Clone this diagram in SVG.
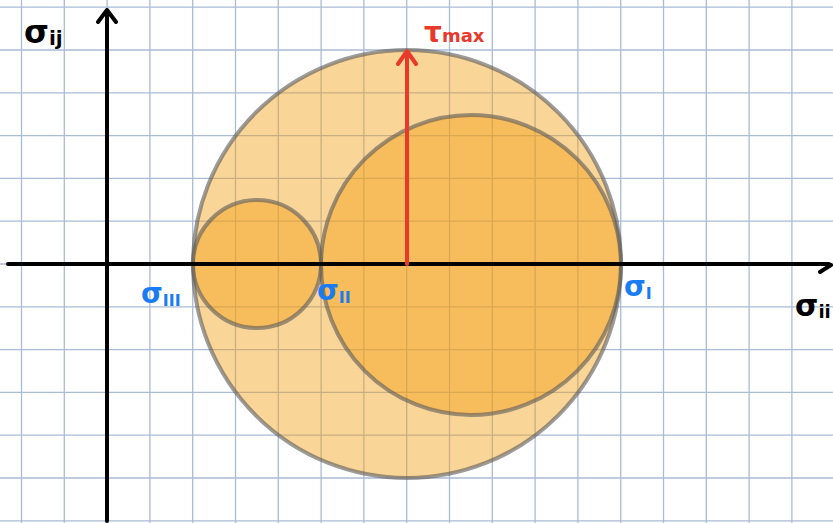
<svg xmlns="http://www.w3.org/2000/svg" width="833" height="523" viewBox="0 0 833 523">
<style>
.grid line{stroke:#aabbd6;stroke-width:1.3}
.circ{fill:#f39d10;fill-opacity:0.43;stroke:#5a5a5a;stroke-opacity:0.6;stroke-width:4}
.ax{stroke:#000;stroke-width:4;fill:none;stroke-linecap:round;stroke-linejoin:round}
.lbl{font-family:"Comic Sans MS","DejaVu Sans",sans-serif;font-weight:bold}
.blue{fill:#1a7cf2}
</style>
<rect width="833" height="523" fill="#fff"/>
<g class="grid">
<line x1="21.5" y1="0" x2="21.5" y2="523"/><line x1="64.3" y1="0" x2="64.3" y2="523"/><line x1="107.1" y1="0" x2="107.1" y2="523"/><line x1="149.9" y1="0" x2="149.9" y2="523"/><line x1="192.7" y1="0" x2="192.7" y2="523"/><line x1="235.5" y1="0" x2="235.5" y2="523"/><line x1="278.3" y1="0" x2="278.3" y2="523"/><line x1="321.1" y1="0" x2="321.1" y2="523"/><line x1="363.9" y1="0" x2="363.9" y2="523"/><line x1="406.7" y1="0" x2="406.7" y2="523"/><line x1="449.5" y1="0" x2="449.5" y2="523"/><line x1="492.3" y1="0" x2="492.3" y2="523"/><line x1="535.1" y1="0" x2="535.1" y2="523"/><line x1="577.9" y1="0" x2="577.9" y2="523"/><line x1="620.7" y1="0" x2="620.7" y2="523"/><line x1="663.5" y1="0" x2="663.5" y2="523"/><line x1="706.3" y1="0" x2="706.3" y2="523"/><line x1="749.1" y1="0" x2="749.1" y2="523"/><line x1="791.9" y1="0" x2="791.9" y2="523"/>
<line x1="0" y1="7.2" x2="833" y2="7.2"/><line x1="0" y1="50" x2="833" y2="50"/><line x1="0" y1="92.8" x2="833" y2="92.8"/><line x1="0" y1="135.6" x2="833" y2="135.6"/><line x1="0" y1="178.4" x2="833" y2="178.4"/><line x1="0" y1="221.2" x2="833" y2="221.2"/><line x1="0" y1="264" x2="833" y2="264"/><line x1="0" y1="306.8" x2="833" y2="306.8"/><line x1="0" y1="349.6" x2="833" y2="349.6"/><line x1="0" y1="392.4" x2="833" y2="392.4"/><line x1="0" y1="435.2" x2="833" y2="435.2"/><line x1="0" y1="478" x2="833" y2="478"/><line x1="0" y1="520.8" x2="833" y2="520.8"/>
</g>
<g id="circle-big"><circle class="circ" cx="407" cy="264" r="214"/></g>
<g id="circle-small"><circle class="circ" cx="257" cy="264" r="64"/></g>
<g id="circle-medium"><circle class="circ" cx="471" cy="265" r="150"/></g>
<g id="connectors">
<path class="ax" d="M8 264 H829 M820 272 L831 265"/>
<path class="ax" d="M107 521 V10 M98 22 L107 10 L116 22"/>
<path d="M407 264 V52 M398 64 L407 51 L416 64" fill="none" stroke="#e8392b" stroke-width="4" stroke-linecap="round" stroke-linejoin="round"/>
</g>
<g id="labels">
<text class="lbl" x="24" y="43" font-size="32">σ<tspan font-size="20" dy="2">ij</tspan></text>
<text class="lbl" x="424" y="42" font-size="28" fill="#e8392b">τ<tspan font-size="18">max</tspan></text>
<text class="lbl blue" x="141" y="303" font-size="28">σ<tspan font-size="16" dy="3">III</tspan></text>
<text class="lbl blue" x="317" y="300" font-size="28">σ<tspan font-size="16" dy="3">II</tspan></text>
<text class="lbl blue" x="624" y="296" font-size="28">σ<tspan font-size="16" dy="3">I</tspan></text>
<text class="lbl" x="795" y="316" font-size="30">σ<tspan font-size="18" dy="2">ii</tspan></text>
</g>
</svg>
